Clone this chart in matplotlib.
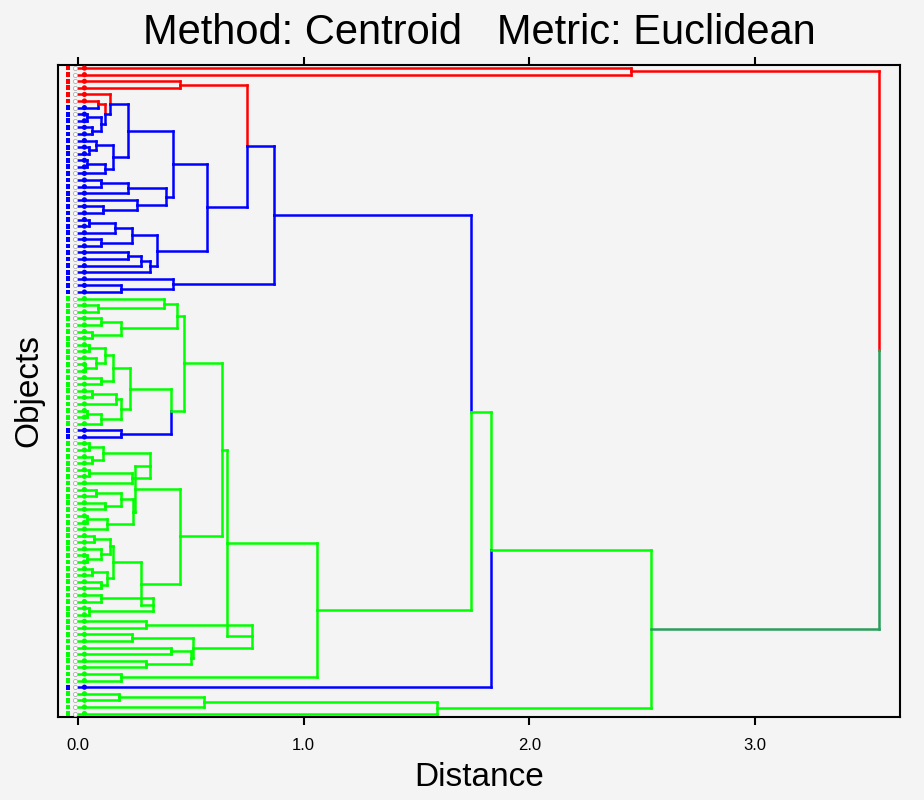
import matplotlib
matplotlib.use("Agg")
from matplotlib import pyplot as plt
from collections import Counter

# merge heights; leaves are colour codes
red_top = [2.45, 'r', 'r']
red_pair = [0.45, 'r', 'r']
blue_a = [0.14, 'r', [0.12, [0.09, 'r', 'b'], [0.10, [0.04, 'b', 'b'], [0.06, 'b', 'b']]]]
blue_b = [0.155, [0.08, 'b', [0.05, 'b', 'b']], [0.12, [0.04, 'b', 'b'], 'b']]
blue_c = [0.39, [0.22, [0.10, 'b', 'b'], 'b'], [0.26, 'b', [0.11, 'b', 'b']]]
blue_d = [0.35, [0.24, [0.165, [0.05, 'b', 'b'], 'b'], [0.10, 'b', 'b']],
          [0.32, [0.28, [0.22, 'b', 'b'], 'b'], 'b']]
blue_e = [0.42, 'b', [0.19, 'b', 'b']]

g1 = [0.44, [0.38, 'g', [0.09, 'g', 'g']], [0.19, [0.10, 'g', 'g'], [0.06, 'g', 'g']]]
g2a = [0.155, [0.12, [0.05, 'g', 'g'], [0.08, 'g', [0.03, 'g', 'g']]], [0.10, 'g', 'g']]
g2b = [0.19, [0.17, [0.06, 'g', 'g'], 'g'], [0.10, [0.04, 'g', 'g'], 'g']]
g3 = [0.19, 'b', 'b']
g4 = [0.25, [0.32, [0.11, [0.05, 'g', 'g'], [0.06, 'g', 'g']], [0.24, [0.05, 'g', 'g'], 'g']],
      [0.245, [0.19, [0.08, 'g', 'g'], [0.12, 'g', 'g']], [0.13, [0.04, 'g', 'g'], 'g']]]
g5 = [0.28, [0.155, [0.14, [0.07, 'g', 'g'], [0.10, 'g', [0.04, 'g', 'g']]],
             [0.13, [0.06, 'g', 'g'], [0.10, 'g', 'g']]],
      [0.33, [0.10, 'g', 'g'], [0.05, 'g', 'g']]]
g6 = [0.77, [0.30, 'g', 'g'], [0.51, [0.24, 'g', 'g'], [0.50, [0.41, 'g', 'g'], [0.30, 'g', 'g']]]]
g7 = [0.19, 'g', 'g']
bottom = [1.59, [0.56, [0.18, 'g', 'g'], 'g'], 'g']

blue_cluster = [0.87, [0.75, red_pair, [0.57, [0.42, [0.22, blue_a, blue_b], blue_c], blue_d]], blue_e]
green_cluster = [1.06, [0.66, [0.64, [0.47, g1, [0.41, [0.23, g2a, g2b], g3]], [0.45, g4, g5]], g6], g7]
tree = [3.55, red_top, [2.54, [1.83, [1.74, blue_cluster, green_cluster], 'b'], bottom]]

mixed_nodes = [2.54]

xticks = [0.0, 1.0, 2.0, 3.0]
xtick_labels = ["0.0", "1.0", "2.0", "3.0"]

colors = {'r': '#ff0000', 'b': '#0000ff', 'g': '#00ff00', 'm': '#2a9d5c'}

fig = plt.figure(figsize=(9.24, 8), dpi=100, facecolor='#f4f4f4')
ax = fig.add_axes([0.0628, 0.104, 0.911, 0.815])
ax.set_facecolor('#f4f4f4')

leaf_y = []
leaf_c = []


def draw(node):
    if isinstance(node, str):
        i = len(leaf_y)
        leaf_y.append(i)
        leaf_c.append(colors[node])
        return i, 0.0, node, Counter({node: 1})
    h, a, b = node
    ya, ha, ca, na = draw(a)
    yb, hb, cb, nb = draw(b)
    y = (ya + yb) / 2
    kw = dict(lw=1.8, solid_capstyle='projecting')
    ax.plot([ha, h], [ya, ya], color=colors[ca], **kw)
    ax.plot([hb, h], [yb, yb], color=colors[cb], **kw)
    ax.plot([h, h], [ya, y], color=colors[ca], **kw)
    ax.plot([h, h], [y, yb], color=colors[cb], **kw)
    n = na + nb
    c = n.most_common(1)[0][0]
    if h in mixed_nodes:
        c = 'm'
    return y, h, c, n


draw(tree)

# leaf glyphs
ax.scatter([-0.045] * len(leaf_y), leaf_y, marker='s', s=12, c=leaf_c, lw=0, zorder=3)
ax.scatter([-0.012] * len(leaf_y), leaf_y, marker='o', s=9, facecolor='white',
           edgecolor='#b0b0b0', lw=0.6, zorder=4)
ax.scatter([0.028] * len(leaf_y), leaf_y, marker='o', s=14, c=leaf_c, lw=0, zorder=3)

ax.set_xlim(-0.089, 3.642)
ax.set_ylim(len(leaf_y) - 0.5, -0.5)

ax.set_xticks(xticks)
ax.set_xticklabels(xtick_labels, fontsize=12, family='Liberation Sans')
ax.set_yticks([])
ax.tick_params(axis='x', which='both', top=True, bottom=True, labeltop=False,
               direction='out', length=6, width=1.5, pad=9)
for s in ax.spines.values():
    s.set_linewidth(1.5)
    s.set_color('black')

ax.set_xlabel("Distance", fontsize=24, family='Liberation Sans', labelpad=7)
ax.set_ylabel("Objects", fontsize=24, family='Liberation Sans', labelpad=10)
ax.set_title("Method: Centroid   Metric: Euclidean", fontsize=30,
             family='Liberation Sans', pad=15)

plt.savefig("out.png", dpi=100, facecolor=fig.get_facecolor())
plt.close()
